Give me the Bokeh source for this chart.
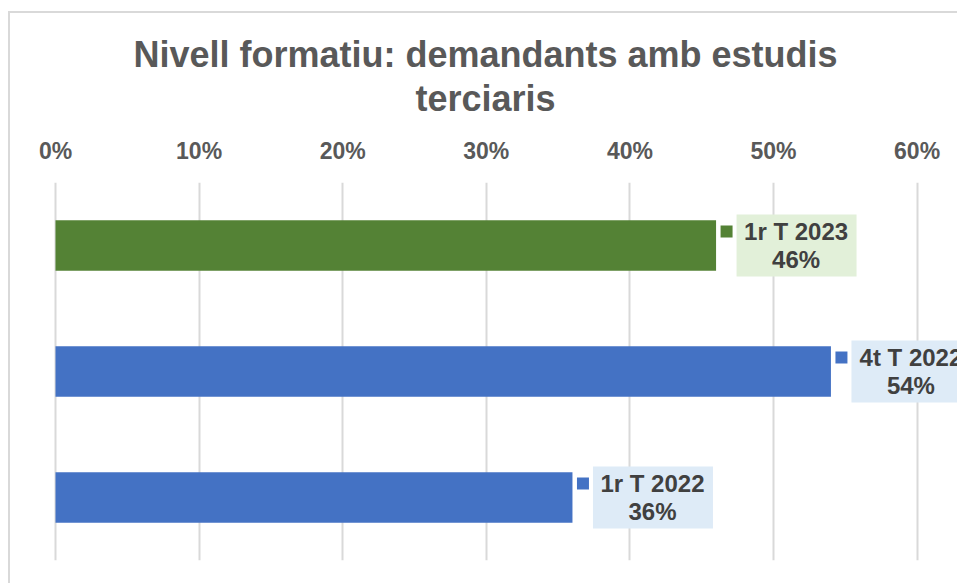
from bokeh.plotting import figure
from bokeh.models import (ColumnDataSource, FactorRange, Range1d, FixedTicker,
                          NumeralTickFormatter, Title, InlineStyleSheet)
from bokeh.transform import dodge
from bokeh.core.properties import value
from bokeh.embed import file_html
from bokeh.resources import INLINE

# ---- data ----
periods = ["1r T 2022", "4t T 2022", "1r T 2023"]
shares = [0.36, 0.54, 0.46]
bar_colors = ["#4472C4", "#4472C4", "#548235"]
box_colors = ["#DEEBF7", "#DEEBF7", "#E2F0D9"]
tick_values = [0.0, 0.1, 0.2, 0.3, 0.4, 0.5, 0.6]
title_lines = ["Nivell formatiu: demandants amb estudis", "terciaris"]

labels = [f"{p}\n{round(v * 100)}%" for p, v in zip(periods, shares)]
src = ColumnDataSource(dict(period=periods, share=shares, color=bar_colors,
                            box=box_colors, label=labels))

FONT = "Liberation Sans"
PX_PER_UNIT = 1436.0  # pixels per 100% (style constant for offsets)

p = figure(width=957, height=583, output_backend="svg", toolbar_location=None,
           title=None,
           y_range=FactorRange(*periods), x_range=Range1d(-0.02925, 0.62813),
           x_axis_location="above", y_axis_location=None,
           min_border_left=13, min_border_right=0, min_border_bottom=23,
           min_border_top=182)
p.outline_line_color = None
p.background_fill_color = "white"
p.border_fill_color = "white"

# axis
ax = p.xaxis[0]
ax.ticker = FixedTicker(ticks=tick_values)
ax.formatter = NumeralTickFormatter(format="0%")
ax.axis_line_color = None
ax.major_tick_line_color = None
ax.minor_tick_line_color = None
ax.major_tick_out = 0
ax.major_tick_in = 0
ax.major_label_standoff = 19
ax.major_label_text_font = FONT
ax.major_label_text_font_size = "23px"
ax.major_label_text_font_style = "bold"
ax.major_label_text_color = "#595959"
# second title line, centred above the tick labels
ax.axis_label = title_lines[1]
ax.axis_label_standoff = 16
ax.axis_label_text_font = FONT
ax.axis_label_text_font_size = "36px"
ax.axis_label_text_font_style = "bold"
ax.axis_label_text_color = "#595959"

# first title line
p.add_layout(Title(text=title_lines[0], align="center", text_font=FONT,
                   text_font_size="36px", text_font_style="bold",
                   text_color="#595959", standoff=0), "above")

p.xgrid.ticker = FixedTicker(ticks=tick_values)
p.xgrid.grid_line_color = "#D9D9D9"
p.xgrid.grid_line_width = 2
p.ygrid.grid_line_color = None

# bars
p.hbar(y="period", left=0, right="share", height=0.4, color="color",
       line_color=None, source=src)

# legend-key squares
p.rect(x=dodge("share", 10.5 / PX_PER_UNIT), y=dodge("period", 14 / 126.0, range=p.y_range),
       width=12, height=12, width_units="screen", height_units="screen",
       fill_color="color", line_color=None, source=src)

# label boxes
p.rect(x=dodge("share", 80.5 / PX_PER_UNIT), y="period",
       width=120, height=62, width_units="screen", height_units="screen",
       fill_color="box", line_color=None, source=src)

p.text(x="share", y="period", text="label", x_offset=80, y_offset=0,
       text_align="center", text_baseline="middle",
       text_font=value(FONT), text_font_size="24px", text_font_style="bold",
       text_color="#404040", text_line_height=1.03, source=src)

# chart border (top & left visible, rest beyond the view)
p.stylesheets = [InlineStyleSheet(css="""
:host { position: relative; }
:host::after { content: ''; position: absolute; left: 8px; top: 11px;
  right: 0; bottom: 0; border-left: 2px solid #D9D9D9;
  border-top: 2px solid #D9D9D9; pointer-events: none; }
""")]

open("out.html", "w").write(file_html(p, INLINE))
